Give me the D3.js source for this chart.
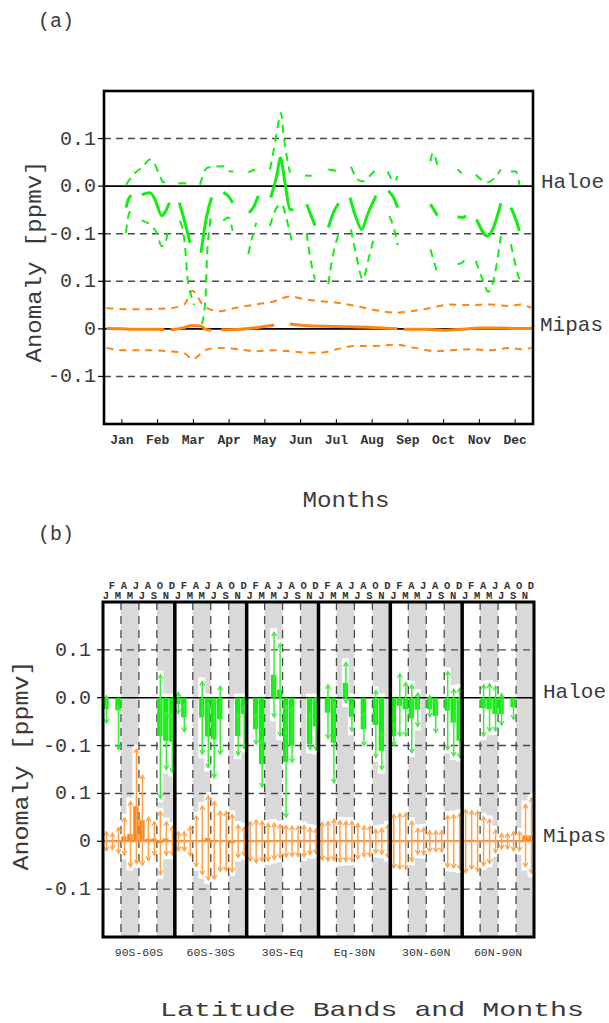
<!DOCTYPE html>
<html><head><meta charset="utf-8">
<script src="https://cdn.jsdelivr.net/npm/d3@7"></script>
<style>body{margin:0;background:#fff}text{font-family:"Liberation Mono","Courier New",monospace}</style>
</head><body><svg id="c" width="609" height="1023"></svg>
<script>
// ---------- data ----------
const monthNames = ["Jan","Feb","Mar","Apr","May","Jun","Jul","Aug","Sep","Oct","Nov","Dec"];
const monthLetters = ["J","F","M","A","M","J","J","A","S","O","N","D"];
const bandNames = ["90S-60S","60S-30S","30S-Eq","Eq-30N","30N-60N","60N-90N"];
const yTickPos = [0.4, 0.3, 0.2, 0.1, 0, -0.1];
const yTickLabels = ["0.1","0.0","-0.1","0.1","0","-0.1"];
const haloeOffset = 0.3;   // Haloe curves are stacked 0.3 ppmv above Mipas

// panel (a): segments of [month position, anomaly ppmv]
const haloeMean = [
 [[0.615,-0.045],[0.70,-0.025],[0.774,-0.020]],
 [[1.054,-0.018],[1.287,-0.014],[1.427,-0.028],[1.613,-0.062],[1.83,-0.035]],
 [[2.107,-0.035],[2.266,-0.077],[2.406,-0.119]],
 [[2.713,-0.140],[2.872,-0.063],[3.012,-0.024]],
 [[3.338,-0.013],[3.478,-0.021],[3.599,-0.035]],
 [[4.056,-0.056],[4.177,-0.045],[4.317,-0.020]],
 [[4.662,-0.024],[4.83,0.021],[4.934,0.059],[5.063,0.007],[5.203,-0.049],[5.297,-0.050]],
 [[5.67,-0.038],[5.902,-0.083]],
 [[6.274,-0.087],[6.415,-0.056],[6.564,-0.036]],
 [[6.881,-0.024],[7.049,-0.066],[7.207,-0.091],[7.375,-0.059],[7.608,-0.020]],
 [[7.95,-0.010],[8.1,-0.024],[8.214,-0.045]],
 [[9.13,-0.038],[9.33,-0.062]],
 [[9.89,-0.065],[10.01,-0.066],[10.13,-0.063]],
 [[10.42,-0.070],[10.73,-0.105],[10.87,-0.091],[11.1,-0.036]],
 [[11.38,-0.045],[11.52,-0.070],[11.62,-0.094]]
];
const haloeUpper = [
 [[0.615,0.003],[0.82,0.024],[1.1,0.042],[1.287,0.056],[1.427,0.045],[1.566,0.021],[1.66,0.008],[1.846,0.008]],
 [[2.08,0.006],[2.313,0.006]],
 [[2.685,0.003],[2.872,0.038],[3.058,0.041],[3.338,0.042],[3.524,0.031],[3.618,0.031]],
 [[4.037,0.029],[4.224,0.035]],
 [[4.643,0.035],[4.783,0.091],[4.877,0.133],[4.951,0.154],[5.016,0.112],[5.11,0.063],[5.203,0.028]],
 [[5.622,0.022],[5.809,0.022]],
 [[6.274,0.035],[6.583,0.031]],
 [[6.909,0.041],[7.095,0.014],[7.235,0.010],[7.422,0.021],[7.608,0.035]],
 [[7.935,0.031],[8.12,0.010],[8.214,0.021]],
 [[9.13,0.052],[9.2,0.070],[9.33,0.042]],
 [[9.89,0.035],[10.01,0.027]],
 [[10.4,0.024],[10.73,0.008],[10.92,0.017],[11.1,0.035]],
 [[11.38,0.031],[11.52,0.031],[11.62,0.003]]
];
const haloeLower = [
 [[0.615,-0.098],[0.68,-0.063],[0.774,-0.049]],
 [[1.054,-0.072],[1.33,-0.084],[1.473,-0.098],[1.613,-0.126],[1.706,-0.122],[1.8,-0.085]],
 [[2.126,-0.073],[2.266,-0.126],[2.33,-0.189],[2.46,-0.236],[2.52,-0.25]],
 [[2.74,-0.29],[2.84,-0.235],[2.88,-0.15],[2.93,-0.10],[3.012,-0.056]],
 [[3.338,-0.073],[3.478,-0.066],[3.599,-0.094]],
 [[4.037,-0.143],[4.177,-0.098],[4.26,-0.077]],
 [[4.643,-0.084],[4.83,-0.045],[4.97,-0.038],[5.11,-0.070],[5.203,-0.098],[5.28,-0.126]],
 [[5.67,-0.098],[5.76,-0.147],[5.902,-0.196]],
 [[6.274,-0.206],[6.4,-0.147],[6.564,-0.101]],
 [[6.909,-0.091],[7.07,-0.150],[7.235,-0.196],[7.42,-0.147],[7.56,-0.105]],
 [[7.98,-0.063],[8.12,-0.091],[8.214,-0.124]],
 [[9.13,-0.133],[9.24,-0.161],[9.33,-0.185]],
 [[9.89,-0.164],[10.01,-0.161],[10.13,-0.150]],
 [[10.4,-0.157],[10.59,-0.196],[10.75,-0.222],[10.87,-0.205],[11.1,-0.105]],
 [[11.38,-0.122],[11.52,-0.168],[11.65,-0.205]]
];
const mipasMean = [
 [[0.07,0.001],[0.5,0.0],[1.0,-0.001],[1.5,-0.001],[1.69,-0.002]],
 [[1.86,-0.002],[2.2,0.002],[2.46,0.007],[2.7,0.006],[2.85,-0.001],[3.0,-0.003]],
 [[3.28,-0.002],[3.8,-0.001],[4.3,0.003],[4.76,0.008]],
 [[5.2,0.010],[5.6,0.007],[6.5,0.005],[7.5,0.003],[8.21,0.0]],
 [[8.38,-0.001],[9.0,-0.001],[9.5,-0.003],[10.0,-0.001],[10.5,0.002],[11.0,0.002],[11.5,0.001],[12.0,0.001]]
];
const mipasUpper = [
 [[0.07,0.044],[0.38,0.042],[1.03,0.041],[1.47,0.042],[1.91,0.044],[2.24,0.051],[2.48,0.080],[2.6,0.070],[2.79,0.048],[3.23,0.037],[3.66,0.044],[4.21,0.051],[4.76,0.058],[5.2,0.068],[5.63,0.062],[6.07,0.058],[6.51,0.055],[7.06,0.048],[7.61,0.039],[8.16,0.034],[8.6,0.037],[9.14,0.044],[9.69,0.051],[10.24,0.050],[10.79,0.051],[11.34,0.048],[11.66,0.051],[11.95,0.044]]
];
const mipasLower = [
 [[0.07,-0.040],[0.56,-0.045],[1.25,-0.045],[1.8,-0.047],[2.24,-0.051],[2.48,-0.064],[2.68,-0.054],[2.9,-0.043],[3.23,-0.040],[3.66,-0.042],[4.21,-0.047],[4.76,-0.045],[5.2,-0.047],[5.63,-0.050],[6.07,-0.050],[6.51,-0.043],[7.06,-0.036],[7.61,-0.036],[8.16,-0.033],[8.7,-0.040],[9.25,-0.047],[9.69,-0.045],[10.24,-0.043],[10.79,-0.045],[11.34,-0.040],[11.66,-0.043],[11.96,-0.040]]
];

// panel (b): 6 bands x 12 months
const haloeBar = [
 -0.024, null, -0.026, null, null, null, null, null, null, -0.080, -0.090, -0.092,
 -0.013, -0.041, null, null, -0.041, -0.081, -0.087, -0.045, null, null, -0.080, -0.034,
 null, -0.066, -0.139, null, 0.048, 0.017, -0.134, -0.100, null, null, -0.097, -0.060,
 null, -0.031, -0.094, null, 0.031, -0.040, null, -0.066, null, -0.057, -0.111, null,
 -0.080, -0.017, -0.024, -0.043, -0.025, null, -0.024, -0.038, null, -0.027, -0.052, -0.090,
 null, null, null, -0.022, -0.024, -0.034, -0.034, null, -0.020, null, null, null
];
const haloeLo = [
 -0.053, null, -0.108, null, null, null, null, null, null, -0.210, -0.150, -0.156,
 -0.033, -0.071, null, null, -0.118, -0.146, -0.167, -0.118, null, null, -0.120, -0.106,
 null, -0.097, -0.187, null, -0.041, -0.080, -0.250, -0.135, null, null, -0.108, -0.110,
 null, -0.085, -0.178, null, -0.011, -0.070, null, -0.100, null, -0.125, -0.150, null,
 -0.100, -0.080, -0.080, -0.115, -0.060, null, -0.040, -0.073, null, -0.108, -0.122, -0.125,
 null, null, null, -0.080, -0.070, -0.069, -0.057, null, -0.045, null, null, null
];
const haloeHi = [
 0.004, null, -0.018, null, null, null, null, null, null, 0.048, -0.031, -0.031,
 0.011, -0.013, null, null, 0.034, -0.011, -0.003, 0.024, null, null, -0.033, -0.015,
 null, -0.034, -0.088, null, 0.137, 0.113, -0.015, -0.020, null, null, -0.031, 0.000,
 null, 0.027, -0.008, null, 0.074, -0.015, null, -0.031, null, 0.015, -0.071, null,
 -0.053, 0.050, 0.032, 0.027, 0.010, null, 0.004, -0.003, null, 0.055, 0.018, 0.020,
 null, null, null, 0.027, 0.029, 0.024, 0.008, null, -0.003, null, null, null
];
const mipasBar = [
 0, 0, 0.002, 0.010, 0.015, 0.073, 0.044, 0.005, 0.006, -0.004, 0.006, 0.001,
 0, 0, 0, 0, 0.002, 0.007, 0.002, 0, 0, -0.004, 0, 0,
 0, 0, 0, -0.002, 0, 0, 0, 0, 0, 0, 0, 0,
 0, 0, 0.003, 0, 0, 0, 0, 0, 0, 0, 0, 0,
 0, 0, 0, 0, 0, 0, 0, 0, 0, 0, 0, 0,
 0, 0.003, 0, 0, 0, 0, 0, 0, 0, 0, 0.012, 0.012
];
const mipasErr = [
 0.020, 0.017, 0.027, 0.039, 0.068, 0.120, 0.094, 0.045, 0.035, 0.066, 0.035, 0.030,
 0.020, 0.020, 0.031, 0.053, 0.072, 0.088, 0.081, 0.063, 0.062, 0.060, 0.034, 0.030,
 0.041, 0.045, 0.042, 0.039, 0.038, 0.035, 0.033, 0.032, 0.032, 0.033, 0.028, 0.026,
 0.039, 0.041, 0.043, 0.043, 0.042, 0.042, 0.037, 0.032, 0.032, 0.025, 0.027, 0.034,
 0.056, 0.058, 0.059, 0.042, 0.027, 0.028, 0.022, 0.022, 0.022, 0.054, 0.056, 0.058,
 0.066, 0.061, 0.063, 0.051, 0.046, 0.024, 0.016, 0.016, 0.020, 0.020, 0.065, 0.079
];

// ---------- style ----------
const GREEN = "#12ee12", GREEN_L = "#3cec3c", ORANGE = "#ff8410", ORANGE_L = "#ffa24a";
const GRID = "#4a4a4a", TXT = "#3a3a3a";

const svg = d3.select("#c");

function yAxisCommon(g, y, x0, x1) {
  yTickPos.forEach(v => {
    const solid = (v === 0.3 || v === 0);
    g.append("line").attr("x1", x0).attr("x2", x1).attr("y1", y(v)).attr("y2", y(v))
      .attr("stroke", solid ? "#000" : GRID).attr("stroke-width", solid ? 1.6 : 1.4)
      .attr("stroke-dasharray", solid ? null : "7,5");
  });
}
function yLabels(g, y, x0, labelRight) {
  yTickPos.forEach((v, i) => {
    g.append("line").attr("x1", x0 - 6).attr("x2", x0).attr("y1", y(v)).attr("y2", y(v))
      .attr("stroke", "#000").attr("stroke-width", 1.2);
    g.append("text").attr("x", labelRight).attr("y", y(v) + 6).attr("text-anchor", "end")
      .attr("font-size", 20).attr("fill", TXT).text(yTickLabels[i]);
  });
}

// ================= Panel (a) =================
const A = {x0: 104, x1: 533, y0: 91, y1: 424};
const xA = d3.scaleLinear().domain([0, 12]).range([A.x0, A.x1]);
const yA = d3.scaleLinear().domain([-0.2, 0.5]).range([A.y1, A.y0]);
const gA = svg.append("g");
svg.append("defs").append("clipPath").attr("id", "clipA").append("rect")
  .attr("x", A.x0).attr("y", A.y0).attr("width", A.x1 - A.x0).attr("height", A.y1 - A.y0);

yAxisCommon(gA, yA, A.x0, A.x1);

const lineFor = off => d3.line().x(d => xA(d[0])).y(d => yA(d[1] + off)).curve(d3.curveMonotoneX);
const dataG = gA.append("g").attr("clip-path", "url(#clipA)");
function drawSegs(segs, off, color, w, dash) {
  dataG.selectAll(null).data(segs).enter().append("path")
    .attr("d", lineFor(off)).attr("fill", "none").attr("stroke", color)
    .attr("stroke-width", w).attr("stroke-dasharray", dash).attr("stroke-linecap", "butt");
}
drawSegs(mipasUpper, 0, ORANGE, 2, "7,6");
drawSegs(mipasLower, 0, ORANGE, 2, "7,6");
drawSegs(mipasMean, 0, ORANGE, 3, null);
drawSegs(haloeUpper, haloeOffset, GREEN, 2, "8,6");
drawSegs(haloeLower, haloeOffset, GREEN, 2, "8,6");
drawSegs(haloeMean, haloeOffset, GREEN, 3, null);

gA.append("rect").attr("x", A.x0).attr("y", A.y0).attr("width", A.x1 - A.x0).attr("height", A.y1 - A.y0)
  .attr("fill", "none").attr("stroke", "#000").attr("stroke-width", 2.6);
monthNames.forEach((m, i) => {
  const x = xA(i + 0.5);
  gA.append("line").attr("x1", x).attr("x2", x).attr("y1", A.y1).attr("y2", A.y1 - 5)
    .attr("stroke", "#000").attr("stroke-width", 1);
  gA.append("text").attr("x", x).attr("y", A.y1 + 20).attr("text-anchor", "middle")
    .attr("font-size", 13).attr("font-weight", "bold").attr("fill", "#333").text(m);
});
yLabels(gA, yA, A.x0, 96);
gA.append("text").attr("transform", `translate(41,${(A.y0 + A.y1) / 2 + 4}) rotate(-90)`)
  .attr("text-anchor", "middle").attr("font-size", 22).attr("fill", TXT)
  .attr("textLength", 202).attr("lengthAdjust", "spacingAndGlyphs").text("Anomaly [ppmv]");
gA.append("text").attr("x", 38).attr("y", 27).attr("font-size", 20).attr("fill", TXT).text("(a)");
gA.append("text").attr("x", 346).attr("y", 507).attr("text-anchor", "middle").attr("font-size", 22)
  .attr("fill", TXT).attr("textLength", 87).attr("lengthAdjust", "spacingAndGlyphs").text("Months");
gA.append("text").attr("x", 541).attr("y", yA(haloeOffset) + 2).attr("font-size", 21).attr("fill", TXT).text("Haloe");
gA.append("text").attr("x", 540).attr("y", yA(0) + 2).attr("font-size", 21).attr("fill", TXT).text("Mipas");

// ================= Panel (b) =================
const B = {x0: 103, x1: 534, y0: 602, y1: 937};
const xB = d3.scaleLinear().domain([0, 72]).range([B.x0, B.x1]);
const yB = d3.scaleLinear().domain([-0.2, 0.5]).range([B.y1, B.y0]);
const gB = svg.append("g");
svg.select("defs").append("clipPath").attr("id", "clipB").append("rect")
  .attr("x", B.x0).attr("y", B.y0).attr("width", B.x1 - B.x0).attr("height", B.y1 - B.y0);
const inB = gB.append("g").attr("clip-path", "url(#clipB)");

bandNames.forEach((b, bi) => {
  [1, 3].forEach(q => {
    inB.append("rect").attr("x", xB(bi * 12 + q * 3)).attr("y", B.y0)
      .attr("width", xB(3) - xB(0)).attr("height", B.y1 - B.y0).attr("fill", "#d9d9d9");
  });
});
const idx = d3.range(72);
const mw = xB(1) - xB(0);
const PAD = 4;
idx.forEach(i => {
  if (haloeBar[i] !== null) {
    const top = Math.max(haloeHi[i], 0, haloeBar[i]) + haloeOffset;
    const bot = Math.min(haloeLo[i], haloeBar[i]) + haloeOffset;
    inB.append("rect").attr("x", xB(i) - 0.5).attr("width", mw + 1)
      .attr("y", yB(top) - PAD).attr("height", yB(bot) - yB(top) + 2 * PAD).attr("fill", "#fff");
  }
  const mt = mipasBar[i] + mipasErr[i], mb = mipasBar[i] - mipasErr[i];
  inB.append("rect").attr("x", xB(i) - 0.5).attr("width", mw + 1)
    .attr("y", yB(mt) - PAD).attr("height", yB(mb) - yB(mt) + 2 * PAD).attr("fill", "#fff");
});
yAxisCommon(inB, yB, B.x0, B.x1);
bandNames.forEach((b, bi) => {
  [1, 2, 3].forEach(q => {
    const x = xB(bi * 12 + q * 3);
    inB.append("line").attr("x1", x).attr("x2", x).attr("y1", B.y0).attr("y2", B.y1)
      .attr("stroke", GRID).attr("stroke-width", 1.3).attr("stroke-dasharray", "8,6");
  });
});
inB.append("line").attr("x1", B.x0).attr("x2", B.x1).attr("y1", yB(0)).attr("y2", yB(0))
  .attr("stroke", ORANGE_L).attr("stroke-width", 2);

idx.forEach(i => {
  if (haloeBar[i] !== null) {
    const a = yB(haloeOffset), b = yB(haloeBar[i] + haloeOffset);
    inB.append("rect").attr("x", xB(i) + 0.3).attr("width", mw - 0.6)
      .attr("y", Math.min(a, b)).attr("height", Math.max(Math.abs(a - b), 0.5)).attr("fill", GREEN);
  }
  const a = yB(0), b = yB(mipasBar[i]);
  if (Math.abs(a - b) > 0.3)
    inB.append("rect").attr("x", xB(i) + 0.3).attr("width", mw - 0.6)
      .attr("y", Math.min(a, b)).attr("height", Math.abs(a - b)).attr("fill", ORANGE);
});
function arrow(x, yTop, yBot, color) {
  inB.append("line").attr("x1", x).attr("x2", x).attr("y1", yTop).attr("y2", yBot)
    .attr("stroke", color).attr("stroke-width", 1.5);
  inB.append("path").attr("d", `M${x - 2.4},${yTop + 4}L${x},${yTop}L${x + 2.4},${yTop + 4}`)
    .attr("fill", "none").attr("stroke", color).attr("stroke-width", 1.3);
  inB.append("path").attr("d", `M${x - 2.4},${yBot - 4}L${x},${yBot}L${x + 2.4},${yBot - 4}`)
    .attr("fill", "none").attr("stroke", color).attr("stroke-width", 1.3);
}
idx.forEach(i => {
  const x = xB(i + 0.5) + 0.5;
  arrow(x, yB(mipasBar[i] + mipasErr[i]), yB(mipasBar[i] - mipasErr[i]), ORANGE_L);
  if (haloeBar[i] !== null)
    arrow(x, yB(haloeHi[i] + haloeOffset), yB(haloeLo[i] + haloeOffset), GREEN_L);
});
d3.range(1, 6).forEach(bi => {
  gB.append("line").attr("x1", xB(bi * 12)).attr("x2", xB(bi * 12)).attr("y1", B.y0).attr("y2", B.y1)
    .attr("stroke", "#000").attr("stroke-width", 3.5);
});
gB.append("rect").attr("x", B.x0).attr("y", B.y0).attr("width", B.x1 - B.x0).attr("height", B.y1 - B.y0)
  .attr("fill", "none").attr("stroke", "#000").attr("stroke-width", 3);
idx.forEach(i => {
  const k = i % 12;
  gB.append("text").attr("x", xB(i + 0.5)).attr("y", k % 2 === 0 ? 599 : 589)
    .attr("text-anchor", "middle").attr("font-size", 10.5).attr("font-weight", "bold")
    .attr("fill", "#333").text(monthLetters[k]);
});
bandNames.forEach((b, bi) => {
  gB.append("text").attr("x", xB(bi * 12 + 6)).attr("y", 956).attr("text-anchor", "middle")
    .attr("font-size", 11.5).attr("fill", "#333").text(b);
});
yLabels(gB, yB, B.x0, 91);
gB.append("text").attr("transform", `translate(28,${(B.y0 + B.y1) / 2 - 4}) rotate(-90)`)
  .attr("text-anchor", "middle").attr("font-size", 22).attr("fill", TXT)
  .attr("textLength", 210).attr("lengthAdjust", "spacingAndGlyphs").text("Anomaly [ppmv]");
gB.append("text").attr("x", 38).attr("y", 540).attr("font-size", 20).attr("fill", TXT).text("(b)");
gB.append("text").attr("x", 372).attr("y", 1016).attr("text-anchor", "middle").attr("font-size", 21)
  .attr("fill", TXT).attr("textLength", 424).attr("lengthAdjust", "spacingAndGlyphs").text("Latitude Bands and Months");
gB.append("text").attr("x", 543).attr("y", yB(haloeOffset)).attr("font-size", 21).attr("fill", TXT).text("Haloe");
gB.append("text").attr("x", 543).attr("y", yB(0) + 1).attr("font-size", 21).attr("fill", TXT).text("Mipas");
</script></body></html>
